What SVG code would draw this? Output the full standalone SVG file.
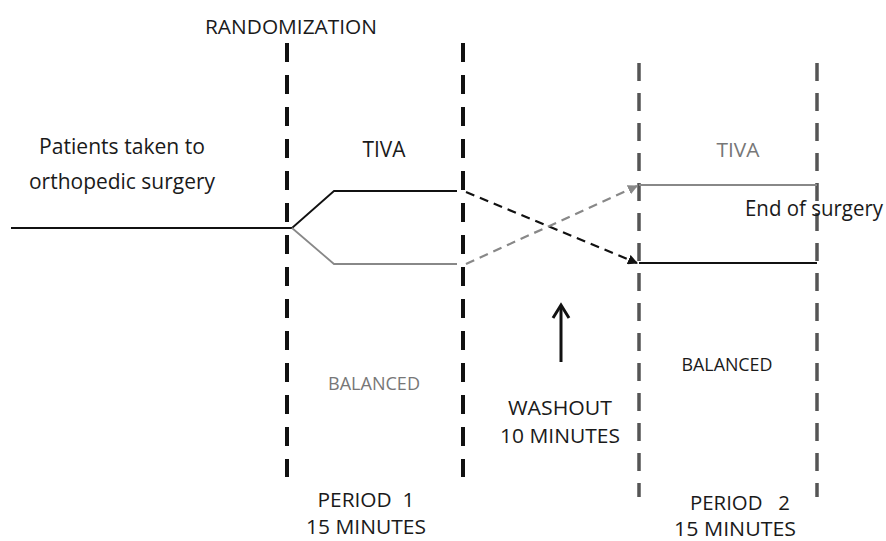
<svg xmlns="http://www.w3.org/2000/svg" width="886" height="541" viewBox="0 0 886 541">
<defs>
<style>
text{font-family:"Open Sans","Liberation Sans",sans-serif;fill:#1a1a1a}
.g{fill:#777}
.vb{stroke:#111;stroke-width:4;stroke-dasharray:19 13;fill:none}
.vg{stroke:#555;stroke-width:3.5;stroke-dasharray:18 12;fill:none}
.ln{stroke:#111;stroke-width:1.8;fill:none}
.lg{stroke:#888;stroke-width:1.8;fill:none}
.db{stroke:#111;stroke-width:2.2;stroke-dasharray:9 6;fill:none}
.dg{stroke:#888;stroke-width:2.2;stroke-dasharray:9 6;fill:none}
</style>
<marker id="ab" markerWidth="10" markerHeight="10" refX="9" refY="5" orient="auto" markerUnits="userSpaceOnUse"><path d="M0,0 L10,5 L0,10 Z" fill="#111"/></marker>
<marker id="ag" markerWidth="10" markerHeight="10" refX="9" refY="5" orient="auto" markerUnits="userSpaceOnUse"><path d="M0,0 L10,5 L0,10 Z" fill="#888"/></marker>
</defs>
<rect width="886" height="541" fill="#fff"/>
<g id="dividers">
<line class="vb" x1="287" y1="43" x2="287" y2="477"/>
<line class="vb" x1="463" y1="43" x2="463" y2="477"/>
<line class="vg" x1="639" y1="63" x2="639" y2="497"/>
<line class="vg" x1="817" y1="63" x2="817" y2="497"/>
</g>
<g id="connectors">
<line class="ln" x1="11" y1="228" x2="292" y2="228"/>
<polyline class="ln" points="292,228 334,191 457,191"/>
<polyline class="lg" points="292,228 334,264 457,264"/>
<line class="db" x1="466" y1="192" x2="637" y2="263" marker-end="url(#ab)"/>
<line class="dg" x1="466" y1="264" x2="637" y2="186" marker-end="url(#ag)"/>
<line class="lg" x1="639" y1="185" x2="817" y2="185"/>
<line class="ln" x1="639" y1="263" x2="817" y2="263"/>
<line x1="561" y1="362" x2="561" y2="306" stroke="#111" stroke-width="3"/>
<polyline points="553,318 561,305 569,318" fill="none" stroke="#111" stroke-width="3" stroke-linejoin="miter"/>
</g>
<g id="labels">
<text x="291" y="34" font-size="20" text-anchor="middle" textLength="172" lengthAdjust="spacingAndGlyphs">RANDOMIZATION</text>
<text x="122" y="154" font-size="21" text-anchor="middle" textLength="166" lengthAdjust="spacingAndGlyphs">Patients taken to</text>
<text x="122" y="189" font-size="21" text-anchor="middle" textLength="186" lengthAdjust="spacingAndGlyphs">orthopedic surgery</text>
<text x="384" y="157" font-size="21" text-anchor="middle" textLength="43" lengthAdjust="spacingAndGlyphs">TIVA</text>
<text class="g" x="738" y="157" font-size="20" text-anchor="middle" textLength="43" lengthAdjust="spacingAndGlyphs">TIVA</text>
<text x="814" y="216" font-size="21" text-anchor="middle" textLength="138" lengthAdjust="spacingAndGlyphs">End of surgery</text>
<text class="g" x="374" y="390" font-size="18" text-anchor="middle" textLength="92" lengthAdjust="spacingAndGlyphs">BALANCED</text>
<text x="727" y="371" font-size="19" text-anchor="middle" textLength="91" lengthAdjust="spacingAndGlyphs">BALANCED</text>
<text x="560" y="415" font-size="20" text-anchor="middle" textLength="104" lengthAdjust="spacingAndGlyphs">WASHOUT</text>
<text x="560" y="443" font-size="20" text-anchor="middle" textLength="120" lengthAdjust="spacingAndGlyphs">10 MINUTES</text>
<text x="366" y="507" font-size="20" text-anchor="middle" textLength="97" lengthAdjust="spacingAndGlyphs" xml:space="preserve">PERIOD  1</text>
<text x="366" y="534" font-size="20" text-anchor="middle" textLength="120" lengthAdjust="spacingAndGlyphs">15 MINUTES</text>
<text x="740" y="510" font-size="20" text-anchor="middle" textLength="100" lengthAdjust="spacingAndGlyphs" xml:space="preserve">PERIOD   2</text>
<text x="735" y="536" font-size="20" text-anchor="middle" textLength="122" lengthAdjust="spacingAndGlyphs">15 MINUTES</text>
</g>
</svg>
